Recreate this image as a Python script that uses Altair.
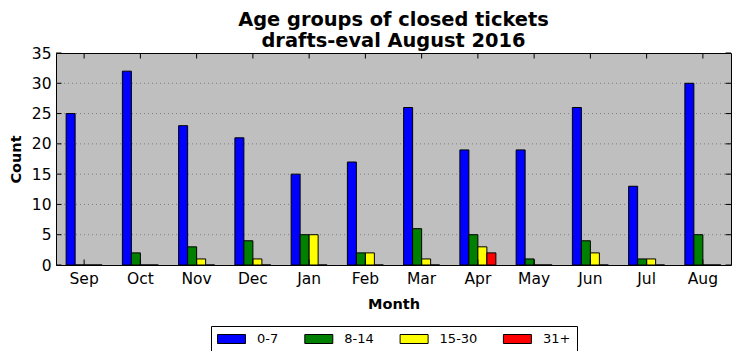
import altair as alt
import pandas as pd

months = ["Sep", "Oct", "Nov", "Dec", "Jan", "Feb", "Mar", "Apr", "May", "Jun", "Jul", "Aug"]
groups = ["0-7", "8-14", "15-30", "31+"]
colors = ["#0000ff", "#008000", "#ffff00", "#ff0000"]

age_0_7 = [25, 32, 23, 21, 15, 17, 26, 19, 19, 26, 13, 30]
age_8_14 = [0, 2, 3, 4, 5, 2, 6, 5, 1, 4, 1, 5]
age_15_30 = [0, 0, 1, 1, 5, 2, 1, 3, 0, 2, 1, 0]
age_31_plus = [0, 0, 0, 0, 0, 0, 0, 2, 0, 0, 0, 0]

y_ticks = [0, 5, 10, 15, 20, 25, 30, 35]

series = [age_0_7, age_8_14, age_15_30, age_31_plus]
rows = []
for g, vals in zip(groups, series):
    for m, v in zip(months, vals):
        rows.append({"month": m, "group": g, "count": v})
df = pd.DataFrame(rows)

df_months = pd.DataFrame({"month": months})
df_y = pd.DataFrame({"count": y_ticks})
df_grid = pd.DataFrame({"count": [v for v in y_ticks if 0 < v < 35]})

W, H = 675, 212
TL = 5.5
FONT = "DejaVu Sans"

x_enc = alt.X(
    "month:N",
    sort=months,
    scale=alt.Scale(paddingInner=0.36, paddingOuter=0.18),
    axis=alt.Axis(
        title="Month", labelAngle=0, ticks=False, domain=False, grid=False,
        labelFontSize=15.5, labelFont=FONT, labelColor="black", labelPadding=6,
        titleFontSize=14.5, titleFont=FONT, titleFontWeight="bold", titleColor="black",
        titlePadding=11,
    ),
)
y_enc = alt.Y(
    "count:Q",
    scale=alt.Scale(domain=[0, 35], nice=False, zero=True),
    axis=alt.Axis(
        title="Count", values=y_ticks, ticks=False, domain=False, grid=False,
        labelFontSize=15.5, labelFont=FONT, labelColor="black", labelPadding=5,
        labelOverlap=False,
        titleFontSize=14.5, titleFont=FONT, titleFontWeight="bold", titleColor="black",
        titlePadding=8,
    ),
)

grid = alt.Chart(df_grid).mark_rule(color="#7f7f7f", strokeDash=[1, 3], strokeWidth=1).encode(
    y=y_enc,
    x=alt.value(0),
    x2=alt.value(W),
)

bars = alt.Chart(df).mark_bar(stroke="black", strokeWidth=1).encode(
    x=x_enc,
    y=y_enc,
    xOffset=alt.XOffset("group:N", sort=groups, scale=alt.Scale(paddingInner=0, paddingOuter=0)),
    color=alt.Color(
        "group:N",
        sort=groups,
        scale=alt.Scale(domain=groups, range=colors),
        legend=alt.Legend(
            title=None,
            orient="none",
            legendX=155,
            legendY=273,
            direction="horizontal",
            columns=4,
            symbolType="M-1,-0.6923L3.3077,-0.6923L3.3077,0.6923L-1,0.6923Z",
            symbolSize=169,
            symbolStrokeColor="black",
            symbolStrokeWidth=1,
            symbolOpacity=1,
            labelFontSize=13,
            labelFont=FONT,
            labelColor="black",
            labelOffset=26,
            columnPadding=23.3,
            padding=6,
            strokeColor="black",
            fillColor="white",
        ),
    ),
)

top_ticks = alt.Chart(df_months).mark_rule(color="black", strokeWidth=1).encode(
    x=x_enc, y=alt.value(0), y2=alt.value(TL)
)
bottom_ticks = alt.Chart(df_months).mark_rule(color="black", strokeWidth=1).encode(
    x=x_enc, y=alt.value(H), y2=alt.value(H - TL)
)
left_ticks = alt.Chart(df_y).mark_rule(color="black", strokeWidth=1).encode(
    y=y_enc, x=alt.value(0), x2=alt.value(TL)
)
right_ticks = alt.Chart(df_y).mark_rule(color="black", strokeWidth=1).encode(
    y=y_enc, x=alt.value(W), x2=alt.value(W - TL)
)

chart = alt.layer(grid, bars, top_ticks, bottom_ticks, left_ticks, right_ticks).properties(
    width=W,
    height=H,
    autosize="none",
    padding={"left": 48, "top": 45, "right": 2, "bottom": 86},
    title=alt.TitleParams(
        ["Age groups of closed tickets", "drafts-eval August 2016"],
        fontSize=19.4,
        fontWeight="bold",
        font=FONT,
        color="black",
        anchor="middle",
        lineHeight=21,
        offset=-5,
    ),
).configure_view(
    fill="#bfbfbf", stroke="black", strokeWidth=1
)

chart.save("out.html", embed_options={"renderer": "svg", "actions": False})
